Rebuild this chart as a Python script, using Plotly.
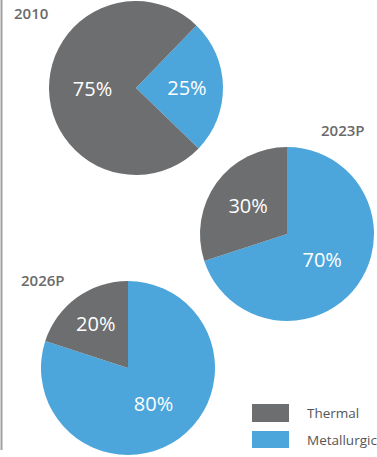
import plotly.graph_objects as go

W, H = 377, 457

categories = ["Thermal", "Metallurgical"]
years = ["2010", "2023P", "2026P"]
shares = {
    "2010": [75, 25],
    "2023P": [30, 70],
    "2026P": [20, 80],
}
colors = {"Thermal": "#6d6e70", "Metallurgical": "#4ca6dc"}

def px_dom(cx, cy, r):
    x0, x1 = (cx - r) / W, (cx + r) / W
    y0, y1 = (H - (cy + r)) / H, (H - (cy - r)) / H
    return dict(x=[x0, x1], y=[y0, y1])

# (center x, center y, rotation) in pixels
layouts = {
    "2010": (136, 88, 44),
    "2023P": (287, 234, 0),
    "2026P": (128, 368, 0),
}
R = 87

fig = go.Figure()
for yr in years:
    cx, cy, rot = layouts[yr]
    # order: Metallurgical clockwise from rotation, then Thermal
    labels = [categories[1], categories[0]]
    vals = [shares[yr][1], shares[yr][0]]
    fig.add_trace(go.Pie(
        labels=labels,
        values=vals,
        sort=False,
        direction="clockwise",
        rotation=rot,
        marker=dict(colors=[colors[l] for l in labels], line=dict(width=0)),
        textinfo="percent",
        texttemplate="%{value}%",
        textposition="inside",
        insidetextorientation="horizontal",
        textfont=dict(family="Open Sans", size=20, color="white"),
        hoverinfo="label+percent",
        showlegend=False,
        domain=px_dom(cx, cy, R),
    ))

annotations = []
title_pos = {"2010": (12, 13), "2023P": (319, 130), "2026P": (19, 280)}
for yr in years:
    x, y = title_pos[yr]
    annotations.append(dict(
        x=x / W, y=1 - y / H, xref="paper", yref="paper",
        xanchor="left", yanchor="middle", showarrow=False,
        text=yr,
        font=dict(family="Open Sans", size=15, weight=600, color="#6a6a6a"),
    ))

shapes = [
    dict(type="line", xref="paper", yref="paper",
         x0=1.5 / W, x1=1.5 / W, y0=1, y1=1 - 450 / H,
         line=dict(color="#a0a0a0", width=2)),
]
leg_rows = [(categories[0], 404, 422), (categories[1], 431, 448)]
for name, y0, y1 in leg_rows:
    shapes.append(dict(type="rect", xref="paper", yref="paper",
                       x0=252 / W, x1=289 / W,
                       y0=1 - y1 / H, y1=1 - y0 / H,
                       fillcolor=colors[name], line=dict(width=0)))
    annotations.append(dict(
        x=305 / W, y=1 - (y0 + y1) / 2 / H, xref="paper", yref="paper",
        xanchor="left", yanchor="middle", showarrow=False,
        text=name, font=dict(family="Open Sans", size=13.5, color="#555555"),
    ))

fig.update_layout(
    width=W, height=H,
    margin=dict(l=0, r=0, t=0, b=0),
    paper_bgcolor="white",
    plot_bgcolor="white",
    annotations=annotations,
    shapes=shapes,
)

fig.write_html("out.html")
